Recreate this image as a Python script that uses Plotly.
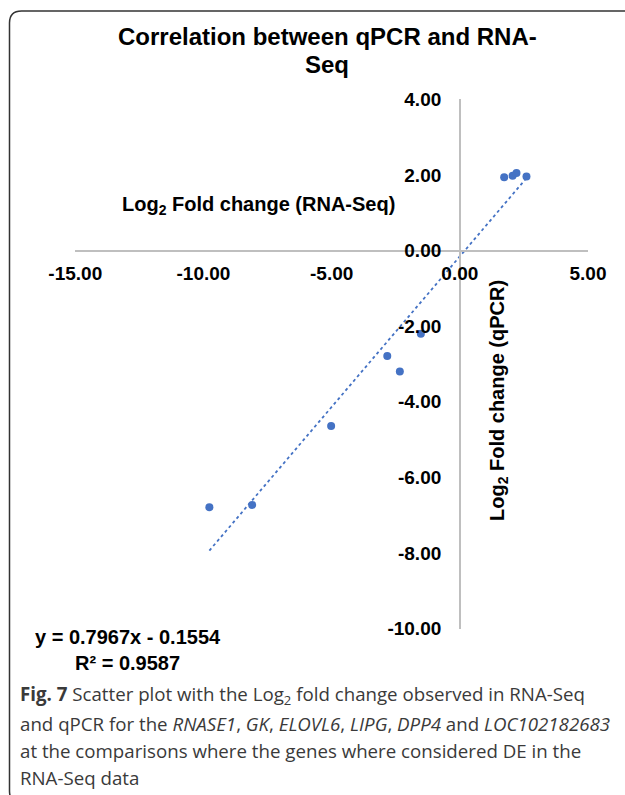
import numpy as np
import plotly.graph_objects as go

# ---- data ----
rna_seq_log2fc = [-9.77, -8.10, -5.02, -2.83, -2.34, -1.52, 1.73, 2.06, 2.21, 2.60]
qpcr_log2fc = [-6.79, -6.73, -4.64, -2.79, -3.20, -2.20, 1.94, 1.98, 2.05, 1.96]
trend_slope = 0.7967
trend_intercept = -0.1554
trend_r2 = 0.9587

x_tick_vals = [-15, -10, -5, 0, 5]
x_tick_text = ["-15.00", "-10.00", "-5.00", "0.00", "5.00"]
y_tick_vals = [-10, -8, -6, -4, -2, 0, 2, 4]
y_tick_text = ["-10.00", "-8.00", "-6.00", "-4.00", "-2.00", "0.00", "2.00", "4.00"]

title_lines = ["Correlation between qPCR and RNA-", "Seq"]
x_title = "Log<sub>2</sub> Fold change (RNA-Seq)"
y_title = "Log<sub>2</sub> Fold change (qPCR)"
caption_lines = [
    "<b>Fig. 7</b> Scatter plot with the Log<sub>2</sub> fold change observed in RNA-Seq",
    "and qPCR for the <i>RNASE1</i>, <i>GK</i>, <i>ELOVL6</i>, <i>LIPG</i>, <i>DPP4</i> and <i>LOC102182683</i>",
    "at the comparisons where the genes where considered DE in the",
    "RNA-Seq data",
]

# ---- layout geometry ----
W, H = 625, 795
X_RANGE = [-15, 5]
Y_RANGE = [-10, 4]
xdom = [75.3 / W, 588.0 / W]
ydom = [1 - 628.5 / H, 1 - 99.3 / H]
x0_paper = xdom[0] + (0 - X_RANGE[0]) / (X_RANGE[1] - X_RANGE[0]) * (xdom[1] - xdom[0])
y0_paper = ydom[0] + (0 - Y_RANGE[0]) / (Y_RANGE[1] - Y_RANGE[0]) * (ydom[1] - ydom[0])

BLUE = "#4472C4"
AXIS_GRAY = "#BFBFBF"
FONT = "Liberation Sans, Arial, sans-serif"


def px(x):
    return x / W


def py(y):
    return 1 - y / H


fig = go.Figure()

# trendline over the data range
tx = np.array([min(rna_seq_log2fc), max(rna_seq_log2fc)])
ty = trend_slope * tx + trend_intercept
fig.add_trace(go.Scatter(
    x=tx, y=ty, mode="lines",
    line=dict(color=BLUE, width=1.8, dash="dot"),
    hoverinfo="skip", showlegend=False,
))

fig.add_trace(go.Scatter(
    x=rna_seq_log2fc, y=qpcr_log2fc, mode="markers",
    marker=dict(color=BLUE, size=8),
    showlegend=False,
))

tickfont = dict(family=FONT, size=19, color="#000000", weight="bold")

fig.update_layout(
    width=W, height=H,
    margin=dict(l=0, r=0, t=0, b=0),
    paper_bgcolor="white", plot_bgcolor="white",
    xaxis=dict(
        range=X_RANGE, domain=xdom, anchor="free", position=y0_paper,
        showline=True, linecolor=AXIS_GRAY, linewidth=1.5,
        showgrid=False, zeroline=False,
        tickmode="array", tickvals=x_tick_vals, ticktext=x_tick_text,
        ticks="outside", ticklen=6, tickcolor="rgba(0,0,0,0)",
        tickfont=tickfont, automargin=False,
    ),
    yaxis=dict(
        range=Y_RANGE, domain=ydom, anchor="free", position=x0_paper,
        showline=True, linecolor=AXIS_GRAY, linewidth=1.5,
        showgrid=False, zeroline=False,
        tickmode="array", tickvals=y_tick_vals, ticktext=y_tick_text,
        ticks="outside", ticklen=14, tickcolor="rgba(0,0,0,0)",
        tickfont=tickfont, automargin=False,
    ),
    showlegend=False,
)

annotations = [
    dict(text=title_lines[0], x=px(327), y=py(37), xref="paper", yref="paper",
         xanchor="center", yanchor="middle", showarrow=False,
         font=dict(family=FONT, size=24, color="#000000", weight="bold")),
    dict(text=title_lines[1], x=px(327), y=py(65), xref="paper", yref="paper",
         xanchor="center", yanchor="middle", showarrow=False,
         font=dict(family=FONT, size=24, color="#000000", weight="bold")),
    dict(text=x_title, x=px(258), y=py(206), xref="paper", yref="paper",
         xanchor="center", yanchor="middle", showarrow=False,
         font=dict(family=FONT, size=20, color="#000000", weight="bold")),
    dict(text=y_title, x=px(498), y=py(400), xref="paper", yref="paper",
         xanchor="center", yanchor="middle", showarrow=False, textangle=-90,
         font=dict(family=FONT, size=20, color="#000000", weight="bold")),
    dict(text=f"y = {trend_slope:.4f}x - {abs(trend_intercept):.4f}<br>R² = {trend_r2:.4f}",
         x=px(128), y=py(649.5), xref="paper", yref="paper",
         xanchor="center", yanchor="middle", align="center", showarrow=False,
         font=dict(family=FONT, size=20, color="#000000", weight="bold")),
]
cap_y = [695, 723, 750.5, 777]
for line, yy in zip(caption_lines, cap_y):
    annotations.append(dict(
        text=line, x=px(18), y=py(yy), xref="paper", yref="paper",
        xanchor="left", yanchor="middle", align="left", showarrow=False,
        font=dict(family="Open Sans, sans-serif", size=18.7, color="#3a3a3a"),
    ))
fig.update_layout(annotations=annotations)

# rounded frame around chart and caption (right and bottom edges fall outside the page)
L, T, R, B, r = 9.5, 11.0, 640.0, 803.0, 12.0
path = (
    f"M {px(L + r)},{py(T)} L {px(R - r)},{py(T)} Q {px(R)},{py(T)} {px(R)},{py(T + r)} "
    f"L {px(R)},{py(B - r)} Q {px(R)},{py(B)} {px(R - r)},{py(B)} "
    f"L {px(L + r)},{py(B)} Q {px(L)},{py(B)} {px(L)},{py(B - r)} "
    f"L {px(L)},{py(T + r)} Q {px(L)},{py(T)} {px(L + r)},{py(T)} Z"
)
fig.add_shape(type="path", path=path, xref="paper", yref="paper",
              line=dict(color="#333333", width=1.5), fillcolor="rgba(0,0,0,0)")

fig.write_html("out.html", config={"displayModeBar": False},
               post_script="document.body.style.margin='0px';")
